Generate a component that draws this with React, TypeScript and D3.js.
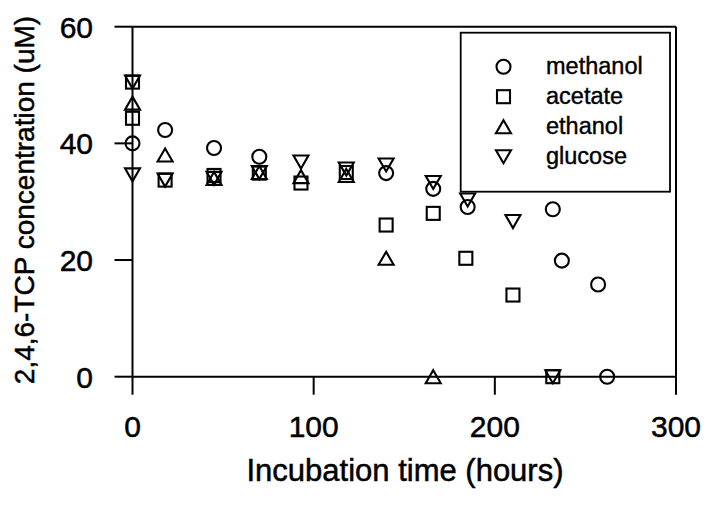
import React from "react";
import * as d3 from "d3";

// values (hours, uM)
const methanolT = [0, 18, 45, 70, 140, 166, 185, 232, 237, 257, 262];
const methanolV = [40, 42.3, 39.2, 37.7, 34.9, 32.2, 29.1, 28.7, 19.9, 15.8, 0];
const acetateT = [0, 0, 18, 45, 70, 93, 118, 140, 166, 184, 210, 232];
const acetateV = [50.5, 44.3, 33.7, 34.5, 34.9, 33.2, 35, 26.0, 28.0, 20.3, 14.0, 0];
const ethanolT = [0, 18, 45, 70, 93, 118, 140, 166];
const ethanolV = [46.9, 38.0, 34, 35, 34.3, 34.5, 20.3, 0];
const glucoseT = [0, 0, 18, 45, 70, 93, 118, 140, 166, 185, 210, 232];
const glucoseV = [50.5, 34.6, 33.7, 34.0, 35.0, 36.8, 35.6, 36.3, 33.3, 30.3, 26.6, 0];

const xTicks = [0, 100, 200, 300];
const yTicks = [0, 20, 40, 60];
const legendLabels = ["methanol", "acetate", "ethanol", "glucose"];

const font = "'Liberation Sans', Arial, Helvetica, sans-serif";

// marker shapes, centred on (x, y)
function marker(kind: string, x: number, y: number) {
  const props = { fill: "none", stroke: "#000", strokeWidth: 2.1 };
  if (kind === "circle") return <circle cx={x} cy={y} r={7} {...props} />;
  if (kind === "square") return <rect x={x - 6.5} y={y - 6.5} width={13} height={13} {...props} />;
  if (kind === "up")
    return <path d={`M${x},${y - 6.5}L${x + 7.5},${y + 6.5}L${x - 7.5},${y + 6.5}Z`} {...props} strokeLinejoin="miter" />;
  return <path d={`M${x - 7.5},${y - 6.5}L${x + 7.5},${y - 6.5}L${x},${y + 6.5}Z`} {...props} strokeLinejoin="miter" />;
}

export default function App() {
  const x = d3.scaleLinear().domain([0, 300]).range([132.5, 676]);
  const y = d3.scaleLinear().domain([0, 60]).range([376.7, 26.7]);

  const series = [
    { kind: "circle", t: methanolT, v: methanolV },
    { kind: "square", t: acetateT, v: acetateV },
    { kind: "up", t: ethanolT, v: ethanolV },
    { kind: "down", t: glucoseT, v: glucoseV },
  ];
  const kinds = ["circle", "square", "up", "down"];

  const x0 = x(0), x1 = x(300), y0 = y(0), y1 = y(60);
  const tick = 18;

  return (
    <svg width={707} height={508} style={{ position: "absolute", left: 0, top: 0, background: "#fff" }}>
      <g stroke="#000" strokeWidth={2} fill="none">
        {/* frame */}
        <line x1={x0} y1={y1} x2={x1} y2={y1} />
        <line x1={x1} y1={y1} x2={x1} y2={y0} />
        <line x1={x0} y1={y1} x2={x0} y2={y0} />
        <line x1={x0} y1={y0} x2={x1} y2={y0} />
        {yTicks.map((d) => (
          <line key={"yt" + d} x1={x0 - tick} x2={x0} y1={y(d)} y2={y(d)} />
        ))}
        {xTicks.map((d) => (
          <line key={"xt" + d} x1={x(d)} x2={x(d)} y1={y0} y2={y0 + tick} />
        ))}
      </g>

      <g fontFamily={font} fill="#000" stroke="#000" strokeWidth={0.5}>
        {yTicks.map((d) => (
          <text key={"yl" + d} x={93} y={y(d)} dy="0.36em" fontSize={30} textAnchor="end">
            {d}
          </text>
        ))}
        {xTicks.map((d) => (
          <text key={"xl" + d} x={x(d)} y={437} fontSize={30} textAnchor="middle">
            {d}
          </text>
        ))}
        <text x={405} y={481} fontSize={31} textAnchor="middle">
          Incubation time (hours)
        </text>
        <text transform="translate(34,200) rotate(-90)" fontSize={28} textAnchor="middle">
          2,4,6-TCP concentration (uM)
        </text>
      </g>

      {/* legend */}
      <rect x={460.7} y={32.7} width={209.3} height={159} fill="#fff" stroke="#000" strokeWidth={1.8} />
      {legendLabels.map((lab, i) => {
        const ly = 66.7 + i * 30;
        return (
          <g key={lab}>
            {marker(kinds[i], 503.5, ly)}
            <text x={546} y={ly + 7.5} fontFamily={font} fontSize={23.5} fill="#000" stroke="#000" strokeWidth={0.4}>
              {lab}
            </text>
          </g>
        );
      })}

      {series.map((s) => (
        <g key={s.kind}>{s.t.map((t, i) => <React.Fragment key={i}>{marker(s.kind, x(t), y(s.v[i]))}</React.Fragment>)}</g>
      ))}
    </svg>
  );
}
